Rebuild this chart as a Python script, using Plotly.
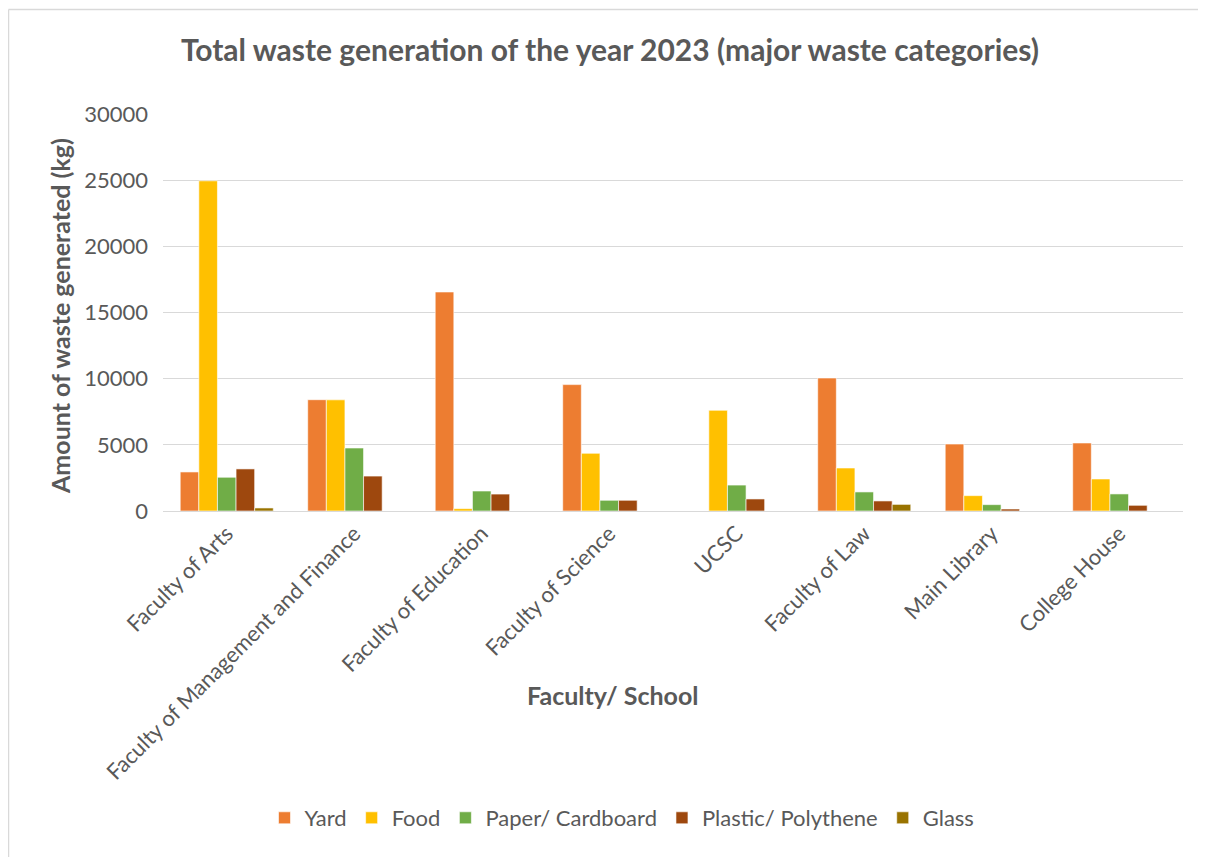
import plotly.graph_objects as go

categories = ["Faculty of Arts", "Faculty of Management and Finance", "Faculty of Education",
              "Faculty of Science", "UCSC", "Faculty of Law", "Main Library", "College House"]
yard = [2950, 8410, 16550, 9550, 0, 10050, 5060, 5140]
food = [24950, 8400, 180, 4360, 7610, 3250, 1160, 2420]
paper = [2550, 4760, 1510, 810, 1960, 1440, 480, 1290]
plastic = [3180, 2640, 1280, 810, 910, 760, 150, 430]
glass = [230, 0, 0, 0, 0, 500, 0, 0]

series = [("Yard", yard, "#ED7D31"), ("Food", food, "#FFC000"),
          ("Paper/ Cardboard", paper, "#70AD47"), ("Plastic/ Polythene", plastic, "#9E480E"),
          ("Glass", glass, "#997300")]

fig = go.Figure()
for name, vals, col in series:
    fig.add_trace(go.Bar(name=name, x=categories, y=vals, marker_color=col,
                         marker_line=dict(color="white", width=0.6)))

# page body has an 8px margin; work in figure coordinates = screen - 8
OFF = 8
W, H = 1190, 849
pl, pr, pt, pb = 163 - OFF, 1183 - OFF, 114 - OFF, 511 - OFF
L, R, T, B = pl, W - pr, pt, H - pb
pw, ph = pr - pl, pb - pt

def px(xs):
    return (xs - OFF - pl) / pw

def py(ys):
    return (pb - (ys - OFF)) / ph

fnt = "Lato, 'Open Sans', sans-serif"
grey = "#595959"
fig.update_layout(
    width=W, height=H, barmode="group", bargap=0.27, bargroupgap=0,
    margin=dict(l=L, r=R, t=T, b=B),
    paper_bgcolor="white", plot_bgcolor="white",
    font=dict(family=fnt, color=grey, size=22),
    title=dict(text="<b>Total waste generation of the year 2023 (major waste categories)</b>",
               x=px(610), xref="paper", xanchor="center", y=1 - (50 - OFF) / H, yanchor="middle",
               font=dict(size=30, color=grey)),
    legend=dict(orientation="h", x=px(622), xanchor="center", y=py(818), yanchor="middle",
                font=dict(size=22, color=grey), traceorder="normal"),
    xaxis=dict(tickangle=-45, tickfont=dict(size=22), showline=True, linecolor="#D9D9D9",
               linewidth=1, automargin=False),
    yaxis=dict(range=[0, 30000], dtick=5000, tickformat="d", tickfont=dict(size=22),
               gridcolor="#D9D9D9", gridwidth=1, zeroline=False, automargin=False, ticks="",
               ticklabelstandoff=14),
)
fig.add_annotation(text="<b>Faculty/ School</b>", xref="paper", yref="paper",
                   x=px(612), y=py(695), xanchor="center", yanchor="middle",
                   showarrow=False, font=dict(size=25, color=grey))
fig.add_annotation(text="<b>Amount of waste generated (kg)</b>", xref="paper", yref="paper",
                   x=px(60), y=py(316), xanchor="center", yanchor="middle", textangle=-90,
                   showarrow=False, font=dict(size=25, color=grey))
# chart border (top and left edges visible in the reference)
fig.add_shape(type="line", xref="paper", yref="paper", x0=px(8.5), x1=px(1300), y0=py(9.5), y1=py(9.5),
              line=dict(color="#D9D9D9", width=1.5))
fig.add_shape(type="line", xref="paper", yref="paper", x0=px(8.5), x1=px(8.5), y0=py(9.5), y1=py(1000),
              line=dict(color="#D9D9D9", width=1.5))
fig.write_html("out.html")
